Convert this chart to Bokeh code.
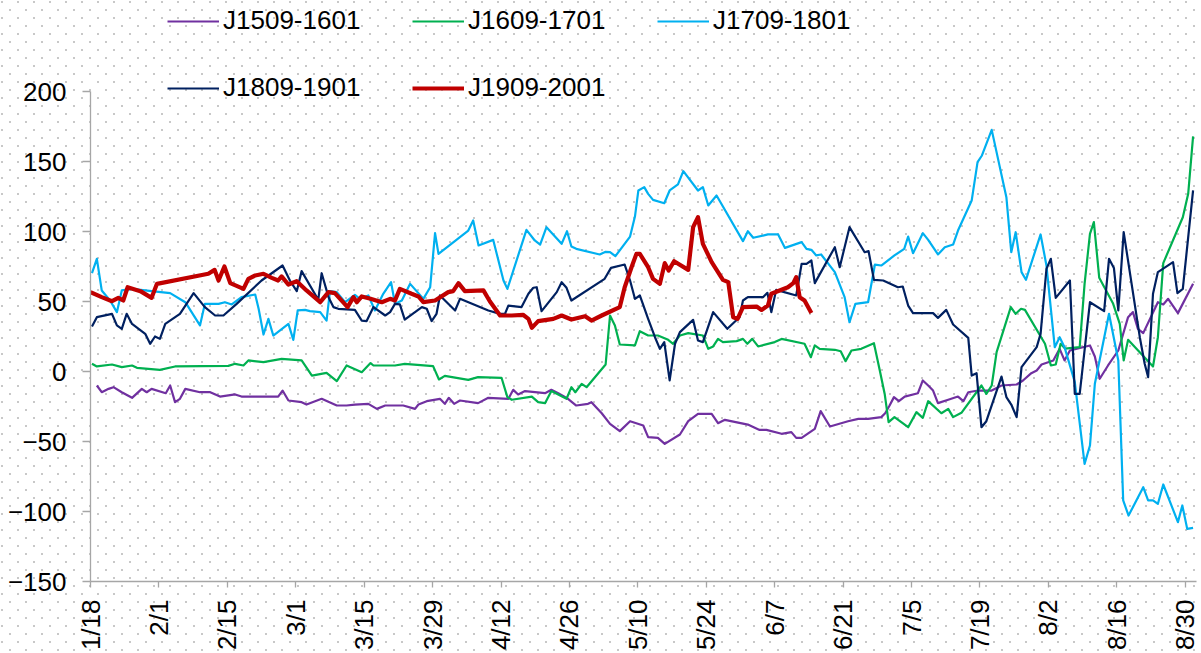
import math
import zlib
import struct
import base64
import pandas as pd
from bokeh.plotting import figure
from bokeh.models import (ColumnDataSource, FixedTicker, Legend, LegendItem, Range1d)
from bokeh.embed import file_html
from bokeh.resources import INLINE

YEAR = 2019
START = pd.Timestamp("2019-01-18")

days_1509 = [1.3, 2.3, 3.7, 4.7, 6.4, 8.5, 10.5, 11.5, 12.5, 15.4, 16.3, 17.3, 18.3, 19.4, 22.4, 24.5, 26.5, 29.6, 30.9, 38.4,
             39.3, 40.5, 43.2, 44.2, 47.3, 50.4, 52.4, 54.1, 56.85, 58.6, 60.3, 64.0, 66.4, 67.1, 68.8, 71.5, 72.5, 73.3, 74.4, 75.6,
             79.3, 81.4, 85.5, 86.5, 87.5, 88.9, 93.0, 94.3, 95.7, 97.7, 99.4, 101.8, 102.5, 104.6, 106.3, 108.3, 110.4, 113.1,
             114.1, 116.1, 117.5, 120.6, 122.3, 124.3, 127.1, 128.4, 129.8, 134.5, 136.9, 138.3, 141.4, 143.4, 144.4, 145.5,
             148.2, 149.4, 151.3, 155.0, 157.1, 159.1, 161.8, 162.6, 163.5, 164.4, 165.4, 166.6, 169.3, 170.3,
             171.4, 172.4, 173.4, 175.5, 177.5, 178.6, 179.6, 181.6, 184.4, 186.4, 189.5, 190.8, 192.5, 193.6, 194.6, 197.0,
             198.3, 199.3, 200.4, 204.5, 205.5, 206.5, 208.2, 210.3, 212.3, 213.3, 214.3, 215.4, 218.4, 219.5, 220.5, 222.5, 225.6]
vals_1509 = [-10, -14.8, -12.4, -11.2, -14.8, -18.8, -12.4, -14.8, -12.4, -15.5, -10, -21.9, -19.5, -12.4, -14.8, -14.8, -17.9, -16.4, -17.9, -17.9,
             -13.6, -20.7, -21.9, -23.6, -19.5, -24.3, -24.3, -23.6, -23.1, -26.7, -24.3, -24.3, -26.7, -23.6, -21.2, -19.5, -23.1, -18.8, -23.1, -20.7,
             -22.6, -18.8, -19.5, -13.1, -16.4, -14, -15.5, -13.1, -15.5, -19.5, -24.3, -23.1, -21.9, -29.8, -37.4, -42.6, -35.5, -38.6,
             -46.9, -47.4, -51.7, -45, -35.5, -30.2, -30.2, -36.9, -34.5, -37.9, -41.7, -41.7, -44.5, -43.3, -47.4, -47.4,
             -41, -28.3, -39.3, -35.5, -33.8, -33.8, -32.6, -29.8, -24.3, -18.3, -21.2, -17.9, -15.5, -6.4,
             -10, -13.6, -22.6, -20.2, -17.9, -21.2, -14.8, -13.6, -13.6, -10, -9.3, -6.4, -1.2, 0.7, 5, 7.9,
             16.2, 7.9, 15, 18.6, 10.7, -5.2, 4.3, 15, 38.8, 42.4, 30.5, 27.4, 49.5, 47.9, 51.9, 41.7, 62.6]

days_1609 = [0.3, 1.3, 4.4, 6.4, 8.5, 9.5, 14.2, 17.3, 28.2, 29.6, 31.3, 32.3, 35.4, 39.1, 43.2, 45.3, 48.3, 50.4, 52.4, 55.5, 57.3,
             57.9, 62.3, 64.3, 70.1, 71.3, 72.5, 77.3, 79.3, 84.1, 85.3, 86.2, 90.3, 91.6, 93.0, 94.3, 97.4, 98.4, 99.2, 100.5, 101.5,
             105.4, 106.3, 107.3, 108.3, 111.4, 112.4,
             114.1, 116.1, 118.2, 119.2, 120.6, 122.3, 125.3, 126.4, 127.4, 128.4, 129.4, 132.2, 133.5, 134.4, 135.4, 136.6, 140.0,
             141.4, 146.1, 147.4, 148.2, 149.2, 152.3, 153.5, 154.5, 155.7, 157.7, 160.3, 161.5, 162.5, 163.3, 164.5, 167.3, 169.0, 170.3,
             171.4, 174.1, 175.5, 176.5, 178.2, 182.3, 183.3, 184.4, 185.4, 188.3, 189.3, 190.4, 191.2, 195.3, 196.5, 197.5, 198.5,
             199.4, 202.4, 203.4, 204.5, 205.3, 206.4, 209.2, 210.6, 211.4, 212.3, 217.4, 218.4, 219.5, 223.5, 224.6, 225.6]
vals_1609 = [5.5, 3.6, 5, 3.1, 4.3, 2.6, 1.2, 3.6, 4, 5.5, 4.3, 7.9, 6.7, 9, 7.9, -2.9, -1, -6.9, 4.3, -0.5, 6,
             4.3, 4.3, 5.5, 3.8, -5.7, -3.1, -6, -4, -4.5, -18.3, -20.2, -17.9, -21.9, -22.6, -14, -19.5, -11.2, -14.8, -8.8, -11.2,
             5, 40, 32.9, 19.3, 18.6, 28.8,
             25.7, 25.7, 22.6, 19.8, 25.7, 27.4, 25.7, 16.2, 17.9, 23.3, 21, 21.7, 23.3, 19.8, 23.3, 17.9, 21,
             23.3, 19.8, 10.2, 18.6, 16.2, 15.5, 14.5, 7.4, 15, 16.2, 20.2, 0.7, -16, -36.2, -32.6, -39.8, -29, -33.1,
             -21.2, -29.8, -26.7, -32.6, -29.5, -10, -16, -10, 13.8, 46, 41.2, 44.8, 44, 19.8, 4.3, 5, 19.8,
             16.4, 17.4, 62.6, 98.3, 106.7, 66.9, 48.8, 34, 7.9, 22.6, 3.6, 24.5, 77.4, 110.2, 126.9, 167.9]

days_1709 = [0.3, 1.3, 2.3, 4.0, 5.4, 6.4, 8.5, 12.5, 16.3, 19.4, 22.4, 23.4, 26.2, 27.5, 28.9, 30.9, 33.7, 34.4, 35.4, 36.4,
             37.4, 40.5, 41.5, 42.4, 43.9, 44.9, 47.0, 48.3, 49.0, 50.4, 52.1, 54.1, 55.1,
             56.85, 58.2, 59.9, 61.5, 62.3, 63.7, 65.4, 68.1, 69.5, 70.5, 71.2, 77.3, 78.3, 79.4, 82.4, 84.5, 85.3, 89.2, 90.9,
             92.0, 93.3, 96.4, 97.5, 98.4, 99.4, 104.2, 105.4, 106.3, 107.4, 110.4, 111.4, 112.1, 113.3,
             114.1, 115.1, 117.4, 118.5, 120.2, 121.3, 124.3, 125.3, 126.4, 128.1, 133.5, 134.5, 135.6, 138.6, 140.7, 142.1,
             145.5, 146.5, 147.5, 148.5, 149.5, 152.3, 154.3, 155.3, 156.5, 159.1, 160.5, 161.8, 164.5, 166.5, 167.3, 168.3, 170.3,
             171.4, 173.4, 174.8, 176.5, 177.5, 180.3, 181.5, 182.4, 184.4, 187.4, 188.4, 189.3, 190.5, 191.4, 194.4, 195.6,
             197.3, 198.3, 199.3, 201.4, 203.4, 204.5, 205.5, 208.4, 210.3, 211.3, 212.4, 215.4, 216.4, 217.4, 218.4, 219.5,
             222.5, 223.4, 224.4, 225.6]
vals_1709 = [70.2, 80.5, 57.9, 50.7, 42.4, 57.9, 59, 57.4, 56, 49.5, 32.9, 48.3, 48.3, 49.5, 47.9, 53.1, 55, 44.8, 26.4, 37.6,
             25.7, 34, 22.6, 43.6, 44, 43.1, 42.4, 36.4, 57.4, 56.7, 49.5, 54.8, 51.9,
             54.3, 43.6, 55.5, 63.8, 48.3, 50.7, 62.6, 51.9, 60.2, 98.8, 84, 100.7, 107.9, 90, 94, 65, 59, 101.2, 93.6,
             90.7, 103.1, 91.2, 100.2, 89.3, 87.6, 83.6, 85.5, 85.2, 82.4, 96.4, 110.7, 129.3, 131.7,
             126.9, 122.6, 120.2, 129.3, 133.6, 143.1, 129.3, 131.7, 118.6, 125.7, 93.1, 100.2, 95.5, 97.9, 97.9, 88.3,
             92.4, 87.6, 86.9, 82.9, 83.6, 71, 53.1, 35.2, 48.3, 49.5, 76.4, 75.7, 82.9, 87.6, 96.4, 84.5, 98.8,
             94, 83.6, 88.8, 90.7, 100.7, 122.1, 149.5, 154.3, 172.6, 124.5, 85.2, 99.5, 71, 65.5, 97.9, 75.7,
             17.4, 24.5, 17.4, -7.6, -66, -52.9, -8.8, 41.2, 7.9, -92.1, -102.9, -82.6, -92.1, -92.1, -94.5, -80.7,
             -107.6, -95.7, -112.4, -111.7]

days_1809 = [0.3, 1.3, 4.4, 5.4, 6.4, 7.4, 8.5, 11.2, 12.2, 13.2, 14.2, 15.3, 18.3, 21.1, 23.4, 25.5, 27.2, 29.9, 35.0, 39.3,
             40.8, 42.2, 43.2, 46.6, 47.3, 48.7, 49.7, 50.7, 54.1, 55.5, 56.5,
             57.9, 60.3, 61.3, 62.3, 63.3, 64.3, 67.8, 68.8, 69.8, 70.8, 71.5, 74.6, 75.6, 81.4, 83.8, 84.8, 85.5, 88.2, 89.6,
             90.6, 91.3, 92.3, 95.4, 96.4, 97.4, 98.4, 105.2, 106.5, 109.3, 110.4, 111.4, 112.4,
             114.1, 115.5, 116.5, 117.4, 118.5, 119.6, 120.6, 123.3, 124.3, 125.3, 127.4, 130.3, 132.8, 133.5, 134.5, 137.6,
             138.5, 139.3, 140.3, 144.4, 145.5, 146.5, 147.5, 148.2, 152.3, 153.3, 155.3, 158.4, 159.2, 160.3, 162.2, 165.2,
             166.2, 167.3, 168.3,
             171.4, 172.4, 173.4, 175.1, 176.5, 179.6, 180.3, 181.3, 182.3, 183.3, 186.4, 187.4, 188.4, 189.5, 190.5, 193.6,
             194.4, 195.6, 196.5, 197.5, 200.4, 201.4, 202.4, 204.5, 207.4, 208.4, 209.4, 210.3, 211.4, 214.7, 215.7, 216.4,
             217.4, 218.4, 221.5, 222.4, 223.5, 225.6]
vals_1809 = [32.1, 38.8, 41.2, 32.9, 30.5, 41.2, 34, 26.9, 19.8, 25, 23.3, 34, 41.2, 56, 46, 40, 40, 48.3, 65, 75.7,
             65, 57.4, 71.7, 51.2, 70.2, 53.1, 46, 44.8, 44, 36.4, 36,
             46, 40, 42.4, 48.3, 47.9, 37, 46, 44.8, 36, 41.2, 54.3, 43.6, 51.9, 43.6, 41.2, 41.2, 47.1, 46, 55.5,
             59.8, 60.2, 43.1, 56.7, 63.8, 59.8, 50.7, 66.2, 74, 76.4, 65, 51.9, 54.3,
             37.6, 24.5, 16.2, 21, -6.4, 19.8, 28.1, 36.9, 22.1, 21, 42.4, 30.5, 38.8, 50.7, 53.1, 53.1,
             56.2, 42.4, 58.3, 54.3, 76.9, 76.9, 79.3, 63.1, 88.8, 74.5, 103.1, 85.2, 86, 65.5, 65, 60.2,
             60.7, 47.1, 41.7,
             41.7, 41.7, 38.3, 44, 33.6, 24, -2.9, -1.2, -39.8, -35.5, -3.6, -18.3, -23.6, -32.6, 3.1, 17.4,
             26.9, 73.3, 80.5, 52.6, 65, -16, -16, 49.5, 43.1, 80.5, 74, 43.6, 99.5, 24.5, 5.5, -4,
             55.5, 71, 78.1, 56, 59, 129.3]

days_1909 = [0.0, 2.3, 4.4, 5.7, 6.7, 7.6, 10.2, 12.5, 13.6, 24.1, 25.4, 26.2, 27.4, 28.6, 31.3, 32.3, 33.7, 35.4, 37.1, 38.4,
             39.1, 40.5, 42.2, 44.2, 47.0, 48.7, 50.0, 52.6, 53.8, 54.5, 55.5, 57.3, 59.6, 61.3, 62.3, 63.3, 65.7, 67.1, 68.1, 70.5,
             73.2, 74.2, 75.3, 76.6, 80.4, 81.7, 83.8, 86.2, 88.5, 89.6, 90.3, 91.6, 94.7, 96.4, 98.4, 101.2, 102.5, 104.6, 108.3, 109.3,
             110.7, 111.7, 112.4, 114.1, 115.1, 116.5, 117.5, 118.3, 119.4, 122.3, 123.3, 124.3, 125.3, 127.1, 129.4, 130.5, 131.5, 132.4,
             133.5, 136.3, 137.3, 138.6, 139.3, 142.7, 143.8, 144.4, 145.1, 146.1, 147.5]
vals_1909 = [56.7, 53.1, 50.2, 52.6, 50.7, 60.2, 57.4, 52.6, 62.6, 69.8, 72.6, 65, 75, 63.1, 59, 66.2, 68.6, 69.8, 66.9, 65,
             67.9, 62.1, 64.5, 57.9, 49.5, 56.7, 56, 46, 53.1, 49.5, 53.6, 51.9, 49.5, 51.9, 50.7, 59, 55.5, 53.6, 49.5, 50.7,
             56.7, 57.4, 63.1, 57.4, 57.9, 50.2, 40, 40, 40.5, 37.6, 31.2, 36, 37.6, 40, 37.1, 39.5, 36.4, 40, 46, 60.2,
             74.5, 84, 84, 74.5, 66.2, 62.6, 77.4, 72.1, 78.8, 72.6, 103.1, 110.2, 91.2, 78.1, 65.5, 63.8, 38.8, 37.6,
             46, 46.4, 44, 47.1, 55.5, 60.2, 63.1, 67.4, 53.1, 50.7, 41.7]

series_names = ["J1509-1601", "J1609-1701", "J1709-1801", "J1809-1901", "J1909-2001"]
series_colors = ["#7030A0", "#00B050", "#00B0F0", "#002060", "#C00000"]
series_widths = [2.2, 2.2, 2.2, 2.2, 4.2]

tick_labels = ["1/18", "2/1", "2/15", "3/1", "3/15", "3/29", "4/12", "4/26", "5/10",
               "5/24", "6/7", "6/21", "7/5", "7/19", "8/2", "8/16", "8/30"]
y_ticks = [-150, -100, -50, 0, 50, 100, 150, 200]
y_axis_bounds = (-150, 200)

EPOCH = pd.Timestamp("1970-01-01")


def to_dates(days):
    return (START + pd.to_timedelta(days, unit="D")).values


def to_ms(ts):
    return int((ts - EPOCH) / pd.Timedelta(milliseconds=1))


def dot_tile_png(size=16, grey=200):
    """16x16 tile with two small grey dots (staggered), for the dotted paper background."""
    on = {(x, y) for x in (1, 2) for y in (1, 2)} | {(x, y) for x in (9, 10) for y in (9, 10)}
    raw = b""
    for yy in range(size):
        raw += b"\x00"
        for xx in range(size):
            raw += bytes((grey, grey, grey, 255)) if (xx, yy) in on else bytes((255, 255, 255, 255))

    def chunk(tag, data):
        return struct.pack(">I", len(data)) + tag + data + struct.pack(">I", zlib.crc32(tag + data) & 0xffffffff)
    png = (b"\x89PNG\r\n\x1a\n" + chunk(b"IHDR", struct.pack(">IIBBBBB", size, size, 8, 6, 0, 0, 0))
           + chunk(b"IDAT", zlib.compress(raw)) + chunk(b"IEND", b""))
    return "data:image/png;base64," + base64.b64encode(png).decode()


tick_ts = [pd.Timestamp(f"{YEAR}-{lab.split('/')[0]}-{lab.split('/')[1]}") for lab in tick_labels]
tick_ms = [to_ms(t) for t in tick_ts]

x_start = START.to_pydatetime()
x_end = (START + pd.Timedelta(days=226.3)).to_pydatetime()

FONT = "Liberation Sans"
AXIS_GREY = "#A6A6A6"

p = figure(width=1201, height=653, x_axis_type="datetime",
           x_range=Range1d(x_start, x_end), y_range=Range1d(-150, 265),
           output_backend="svg", toolbar_location=None,
           min_border_left=90, min_border_right=5, min_border_top=0, min_border_bottom=72)
p.xgrid.visible = False
p.ygrid.visible = False
p.outline_line_color = None
# transparent canvas; the dotted paper pattern is the element's CSS background
p.background_fill_color = None
p.border_fill_color = None
p.styles = {"background-color": "white",
            "background-image": f"url('{dot_tile_png()}')",
            "background-repeat": "repeat",
            "background-position": "0px 0px"}

all_days = [days_1509, days_1609, days_1709, days_1809, days_1909]
all_vals = [vals_1509, vals_1609, vals_1709, vals_1809, vals_1909]
renderers = []
for d, v, c, w in zip(all_days, all_vals, series_colors, series_widths):
    src = ColumnDataSource(dict(x=to_dates(d), y=v))
    r = p.line("x", "y", source=src, line_color=c, line_width=w, line_join="round")
    renderers.append(r)

xa = p.xaxis[0]
ya = p.yaxis[0]
xa.ticker = FixedTicker(ticks=tick_ms)
xa.major_label_overrides = {ms: lab for ms, lab in zip(tick_ms, tick_labels)}
xa.major_label_orientation = math.pi / 2
xa.major_tick_out = 6
xa.major_tick_in = 0
xa.major_label_standoff = 12
ya.ticker = FixedTicker(ticks=y_ticks)
ya.bounds = y_axis_bounds
ya.major_tick_out = 8
ya.major_tick_in = 0
ya.major_label_standoff = 16
for ax in (xa, ya):
    ax.axis_line_color = AXIS_GREY
    ax.axis_line_width = 1.3
    ax.major_tick_line_color = AXIS_GREY
    ax.major_tick_line_width = 1.3
    ax.minor_tick_line_color = None
    ax.major_label_text_font = FONT
    ax.major_label_text_font_size = "26px"
    ax.major_label_text_color = "black"

# legend entries laid out in two rows, in the frame's (x from left, y from bottom) offsets
legend_pos = [(77, 545), (322, 545), (567, 545), (77, 478), (322, 478)]
for name, r, loc in zip(series_names, renderers, legend_pos):
    lg = Legend(items=[LegendItem(label=name, renderers=[r])], location=loc,
                orientation="horizontal", glyph_width=52, glyph_height=20, label_standoff=4,
                padding=0, margin=0, spacing=0, border_line_color=None,
                background_fill_alpha=0, label_text_font=FONT, label_text_font_size="26px",
                label_text_color="black")
    p.add_layout(lg)

open("out.html", "w").write(file_html(p, INLINE))
